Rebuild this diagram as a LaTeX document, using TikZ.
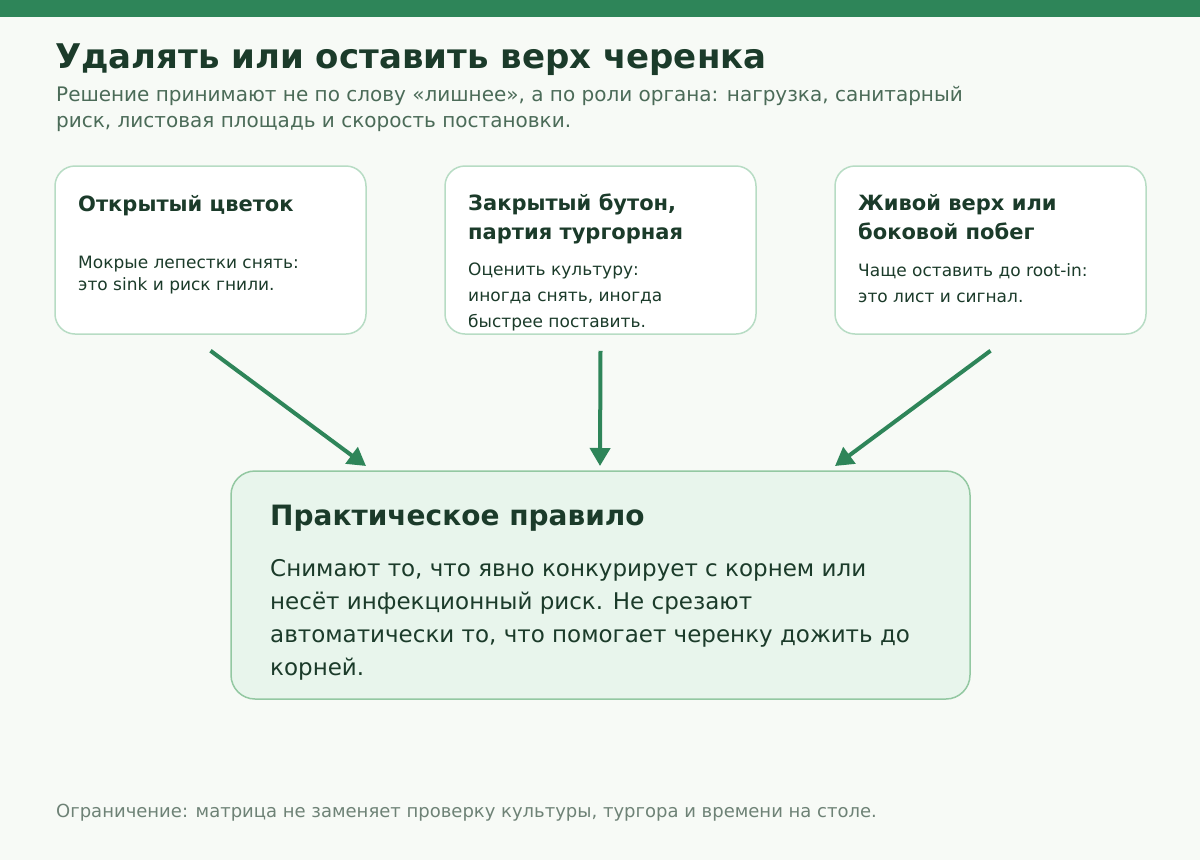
\documentclass[tikz,border=0pt]{standalone}
\usepackage{fontspec}
\setmainfont{DejaVu Sans}
\usetikzlibrary{arrows.meta}

\definecolor{barGreen}{HTML}{2E8559}
\definecolor{pageBg}{HTML}{F7FAF6}
\definecolor{cardEdge}{HTML}{B7DCC4}
\definecolor{ruleFill}{HTML}{E8F5EC}
\definecolor{ruleEdge}{HTML}{93C8A2}
\definecolor{inkDark}{HTML}{1B3B2A}
\definecolor{inkSub}{HTML}{4B6B58}
\definecolor{inkFoot}{HTML}{6E8276}

\tikzset{
  card/.style={draw=cardEdge, line width=1.5pt, fill=white, rounded corners=20pt,
    minimum width=311pt, minimum height=168pt, inner sep=0pt},
  rulebox/.style={draw=ruleEdge, line width=1.5pt, fill=ruleFill, rounded corners=24pt,
    minimum width=739pt, minimum height=228pt, inner sep=0pt},
  txt/.style={anchor=base west, inner sep=0pt, align=left, text=inkDark},
  cardhead/.style={txt, font=\fontsize{21}{29}\selectfont\bfseries},
  cardtext/.style={txt, font=\fontsize{17}{26}\selectfont},
  flow/.style={draw=barGreen, line width=4pt, -{Triangle[length=18pt,width=20pt]}}
}

\begin{document}
\begin{tikzpicture}[x=1pt,y=1pt,yscale=-1]
\useasboundingbox (0,0) rectangle (1200,860);
\fill[pageBg] (0,0) rectangle (1200,860);
\fill[barGreen] (0,0) rectangle (1200,17);

% header (multi-line nodes sit on their last baseline)
\node[txt, font=\fontsize{34}{40}\selectfont\bfseries] (title) at (55,68) {Удалять или оставить верх черенка};
\node[txt, text=inkSub, font=\fontsize{20}{26}\selectfont] (subtitle) at (56,127) {Решение принимают не по слову «лишнее», а по роли органа: нагрузка, санитарный\\ риск, листовая площадь и скорость постановки.};

% three cases
\node[card] (flower) at (210.5,250) {};
\node[card] (bud) at (600.5,250) {};
\node[card] (shoot) at (990.5,250) {};

\node[cardhead] (flowerhead) at (78,211) {Открытый цветок};
\node[cardtext, font=\fontsize{17}{22}\selectfont] (flowertext) at (78,290) {Мокрые лепестки снять:\\ это sink и риск гнили.};

\node[cardhead] (budhead) at (468,239) {Закрытый бутон,\\ партия тургорная};
\node[cardtext] (budtext) at (468,327) {Оценить культуру:\\ иногда снять, иногда\\ быстрее поставить.};

\node[cardhead] (shoothead) at (858,239) {Живой верх или\\ боковой побег};
\node[cardtext] (shoottext) at (858,302) {Чаще оставить до root-in:\\ это лист и сигнал.};

% practical rule
\node[rulebox] (rule) at (600.5,585) {};
\node[txt, font=\fontsize{28}{32}\selectfont\bfseries] (rulehead) at (270,525) {Практическое правило};
\node[txt, font=\fontsize{23}{32.7}\selectfont] (ruletext) at (270,675) {Снимают то, что явно конкурирует с корнем или\\ несёт инфекционный риск. Не срезают\\ автоматически то, что помогает черенку дожить до\\ корней.};

% arrows
\coordinate (flowerend) at (366,466);
\coordinate (budend) at (600,466);
\coordinate (shootend) at (835,466);
\draw[flow] ([yshift=16pt]flower.south) -- (flowerend);
\draw[flow] ([yshift=16pt]bud.south) -- (budend);
\draw[flow] ([yshift=16pt]shoot.south) -- (shootend);

% footer
\node[txt, text=inkFoot, font=\fontsize{18}{20}\selectfont] (note) at (56,817) {Ограничение: матрица не заменяет проверку культуры, тургора и времени на столе.};
\end{tikzpicture}
\end{document}
